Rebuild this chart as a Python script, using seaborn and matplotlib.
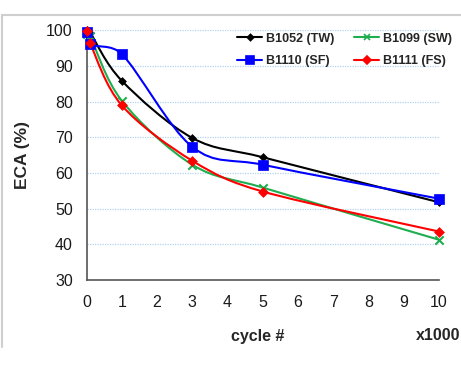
import numpy as np
import pandas as pd
import matplotlib
matplotlib.use("Agg")
import matplotlib.pyplot as plt
import seaborn as sns
from matplotlib.path import Path
from matplotlib.patches import PathPatch
from matplotlib.lines import Line2D

# ---- data (cycles in thousands, ECA in %) ----
cycles = [0, 0.1, 1, 3, 5, 10]
b1052_tw = [100.0, 99.3, 85.8, 69.8, 64.4, 51.8]
b1099_sw = [99.0, 98.3, 80.2, 62.3, 55.9, 41.3]
b1110_sf = [99.5, 96.0, 93.3, 67.3, 62.3, 52.8]
b1111_fs = [99.8, 96.3, 78.9, 63.4, 54.8, 43.6]
series_names = ["B1052 (TW)", "B1099 (SW)", "B1110 (SF)", "B1111 (FS)"]
x_ticks = list(range(0, 11))
y_ticks = [30, 40, 50, 60, 70, 80, 90, 100]

colors = ["#000000", "#1fae4f", "#0000ff", "#ff0000"]
markers = ["D", "x", "s", "D"]
msizes = [4, 6, 7, 5]

rows = []
for name, vals in zip(series_names, [b1052_tw, b1099_sw, b1110_sf, b1111_fs]):
    for c, v in zip(cycles, vals):
        rows.append({"series": name, "cycle": c, "eca": v})
df = pd.DataFrame(rows)

sns.set_style("white")
plt.rcParams["font.family"] = ["Liberation Sans", "DejaVu Sans"]

fig = plt.figure(figsize=(4.61, 3.68), dpi=100)
ax = fig.add_axes([0.188, 0.239, 0.764, 0.679])
ax.set_xlim(0, 10)
ax.set_ylim(30, 100)

# light blue dotted gridlines
for yv in y_ticks[1:]:
    ax.axhline(yv, color="#b3d4f2", lw=0.9, ls=(0, (1, 1)), zorder=0)

# Excel-like smoothed curves (Bezier) built from the data in pixel-scaled space
sx, sy = 35.2, 3.571

def smooth_path(xs, ys):
    P = np.column_stack([np.array(xs) * sx, np.array(ys) * sy])
    n = len(P)
    verts = [P[0]]
    codes = [Path.MOVETO]
    for i in range(n - 1):
        p0 = P[i - 1] if i > 0 else P[i]
        p1 = P[i]
        p2 = P[i + 1]
        p3 = P[i + 2] if i + 2 < n else P[i + 1]
        seg = np.hypot(*(p2 - p1))
        t1 = (p2 - p0)
        t2 = (p3 - p1)
        # limit tangent length relative to the segment to avoid loops
        for t in (t1, t2):
            L = np.hypot(*t) / 6.0
            if L > seg * 0.45 and L > 0:
                t *= seg * 0.45 / L
        c1 = p1 + t1 / 6.0
        c2 = p2 - t2 / 6.0
        verts += [c1, c2, p2]
        codes += [Path.CURVE4] * 3
    V = np.array(verts)
    V[:, 0] /= sx
    V[:, 1] /= sy
    return Path(V, codes)

for name, col in zip(series_names, colors):
    sub = df[df.series == name]
    patch = PathPatch(smooth_path(sub.cycle.values, sub.eca.values),
                      facecolor="none", edgecolor=col, lw=1.5, zorder=3,
                      transform=ax.transData, clip_on=False)
    ax.add_patch(patch)

for name, col, mk, ms in zip(series_names, colors, markers, msizes):
    sub = df[df.series == name]
    sns.scatterplot(data=sub, x="cycle", y="eca", ax=ax, color=col, marker=mk,
                    s=ms ** 2, edgecolor=col if mk != "x" else None,
                    linewidth=1.5 if mk == "x" else 0.5, zorder=4,
                    clip_on=False, legend=False)

ax.set_xticks(x_ticks)
ax.set_yticks(y_ticks)
ax.tick_params(axis="both", length=0, labelsize=11.5, colors="#1a1a1a")
ax.tick_params(axis="y", pad=10)
ax.tick_params(axis="x", pad=11)
for s in ["top", "right"]:
    ax.spines[s].set_visible(False)
for s in ["left", "bottom"]:
    ax.spines[s].set_color("#555555")
    ax.spines[s].set_linewidth(1.2)
ax.set_xlabel("")
ax.set_ylabel("")
fig.text(22 / 461, 1 - 155 / 368, "ECA (%)", rotation=90, ha="center",
         va="center", fontsize=12.5, fontweight="bold")

fig.text(258 / 461, 1 - 336 / 368, "cycle #", ha="center", va="center",
         fontsize=11.5, fontweight="bold")
fig.text(416 / 461, 1 - 336 / 368, "x1000", ha="left", va="center",
         fontsize=11.5, fontweight="bold")

handles = [Line2D([0], [0], color=c, marker=m, markersize=ms * 0.8, lw=1.5,
                  markeredgewidth=1.2)
           for c, m, ms in zip(colors, markers, msizes)]
order = [0, 2, 1, 3]
leg = ax.legend([handles[i] for i in order], [series_names[i] for i in order],
                ncol=2, loc="upper left", bbox_to_anchor=(0.395, 1.035),
                frameon=False, prop={"weight": "bold", "size": 9},
                handlelength=2.0, handletextpad=0.3, columnspacing=1.6,
                labelspacing=0.85)

# outer chart border (left and top)
fig.add_artist(Line2D([1.5 / 461, 1.5 / 461], [1 - 15 / 368, 1 - 347 / 368],
                      color="#cfcfcf", lw=1.5))
fig.add_artist(Line2D([1.5 / 461, 1.0], [1 - 15 / 368, 1 - 15 / 368],
                      color="#cfcfcf", lw=1.5))

fig.savefig("out.png", dpi=100)
